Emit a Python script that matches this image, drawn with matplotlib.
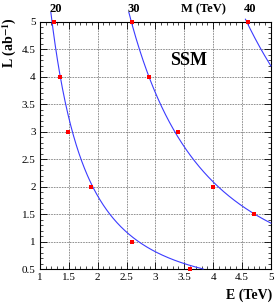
import numpy as np
import matplotlib
matplotlib.use("Agg")
import matplotlib.pyplot as plt
from matplotlib.ticker import MultipleLocator

# red points (E in TeV, L in ab^-1)
pts_e = [1.24, 1.34, 1.49, 1.88, 2.60, 3.60,
         2.59, 2.89, 3.40, 4.00, 4.70,
         4.60]
pts_l = [5.0, 4.0, 3.0, 2.0, 1.0, 0.5,
         5.0, 4.0, 3.0, 2.0, 1.5,
         5.0]

# blue curves L = norm / E^exp, one per mass M (TeV)
curve_mass = [20, 30, 40]
curve_norm = [7.33, 33.4, 105.0]
curve_exp = [2.0, 2.0, 2.0]
curve_e_start = [1.19, 2.54, 4.56]

plt.rcParams["font.family"] = ["Liberation Serif", "DejaVu Serif"]
plt.rcParams["mathtext.fontset"] = "stix"

fig = plt.figure(figsize=(2.75, 3.05), dpi=100)
ax = fig.add_axes([0.145, 0.118, 0.84, 0.81])

ax.set_xlim(1, 5)
ax.set_ylim(0.5, 5)

for m, a, n, e0 in zip(curve_mass, curve_norm, curve_exp, curve_e_start):
    e = np.linspace(e0, 5, 400)
    l = a / e ** n
    keep = l >= 0.5
    ax.plot(e[keep], l[keep], color="#3b3bff", lw=0.8, clip_on=False, zorder=3)
    ax.text(e0 - 0.02, 5.13, str(m), fontsize=9, fontweight="bold",
            ha="left", va="bottom")

ax.plot(pts_e, pts_l, "s", color="red", ms=2.4, mew=0, clip_on=False, zorder=4)

ax.text(3.83, 5.13, "M (TeV)", fontsize=9, fontweight="bold", ha="center", va="bottom")
ax.text(3.58, 4.3, "SSM", fontsize=13, fontweight="bold", ha="center", va="center")

ax.xaxis.set_major_locator(MultipleLocator(0.5))
ax.xaxis.set_minor_locator(MultipleLocator(0.1))
ax.yaxis.set_major_locator(MultipleLocator(0.5))
ax.yaxis.set_minor_locator(MultipleLocator(0.1))
ax.set_xticks([1, 1.5, 2, 2.5, 3, 3.5, 4, 4.5, 5])
ax.set_xticklabels(["1", "1.5", "2", "2.5", "3", "3.5", "4", "4.5", "5"])
ax.set_yticks([0.5, 1, 1.5, 2, 2.5, 3, 3.5, 4, 4.5, 5])
ax.set_yticklabels(["0.5", "1", "1.5", "2", "2.5", "3", "3.5", "4", "4.5", "5"])
ax.tick_params(which="both", direction="in", top=True, right=True, labelsize=8, pad=3)
ax.tick_params(which="major", length=5, width=0.6)
ax.tick_params(which="minor", length=2.5, width=0.5)
ax.grid(True, which="major", ls=(0, (2, 1.2)), color="#808080", lw=0.6)
for s in ax.spines.values():
    s.set_linewidth(0.8)

fig.text(0.99, 0.01, "E (TeV)", fontsize=10, fontweight="bold", ha="right", va="bottom")
fig.text(0.035, 0.86, "L (ab$^{\\mathbf{-1}}$)", fontsize=10, fontweight="bold",
         rotation=90, ha="center", va="center")

fig.savefig("out.png", dpi=100)
